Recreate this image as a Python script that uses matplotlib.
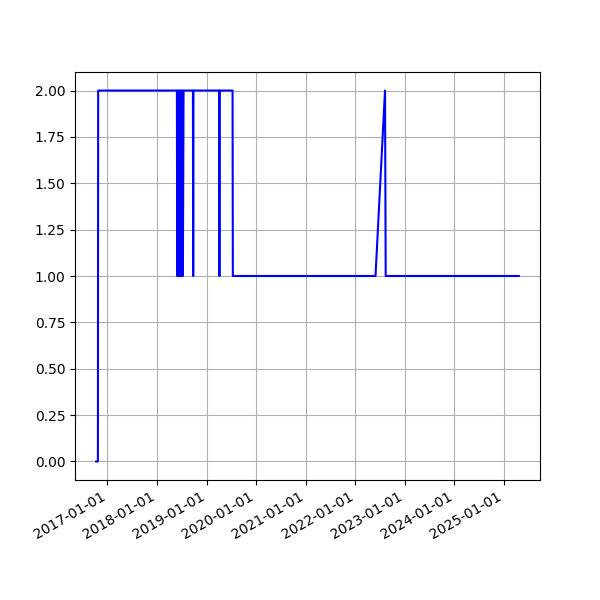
import matplotlib
matplotlib.use("Agg")
import matplotlib.pyplot as plt
import matplotlib.dates as mdates
import pandas as pd

dates = [
    "2016-10-10", "2016-10-23", "2016-10-25",
    "2018-05-28", "2018-05-30", "2018-06-04", "2018-06-06", "2018-06-11",
    "2018-06-13", "2018-06-18", "2018-06-20", "2018-06-25", "2018-06-27",
    "2018-07-02", "2018-07-04", "2018-07-09", "2018-07-11", "2018-07-16",
    "2018-09-23", "2018-09-25", "2018-09-27",
    "2019-04-04", "2019-04-06", "2019-04-08",
    "2019-07-12", "2019-07-14",
    "2022-05-30", "2022-08-08", "2022-08-13",
    "2025-04-20",
]
values = [
    0, 0, 2,
    2, 1, 2, 1, 2,
    1, 2, 1, 2, 1,
    2, 1, 2, 1, 2,
    2, 1, 2,
    2, 1, 2,
    2, 1,
    1, 2, 1,
    1,
]

series = pd.Series(values, index=pd.to_datetime(dates))

fig, ax = plt.subplots(figsize=(6, 6), dpi=100)
ax.plot(series.index, series.values, color="b")
ax.xaxis.set_major_locator(mdates.YearLocator())
ax.xaxis.set_major_formatter(mdates.DateFormatter("%Y-%m-%d"))
ax.grid(True)
fig.autofmt_xdate()
plt.savefig("out.png", dpi=100)
plt.close()
